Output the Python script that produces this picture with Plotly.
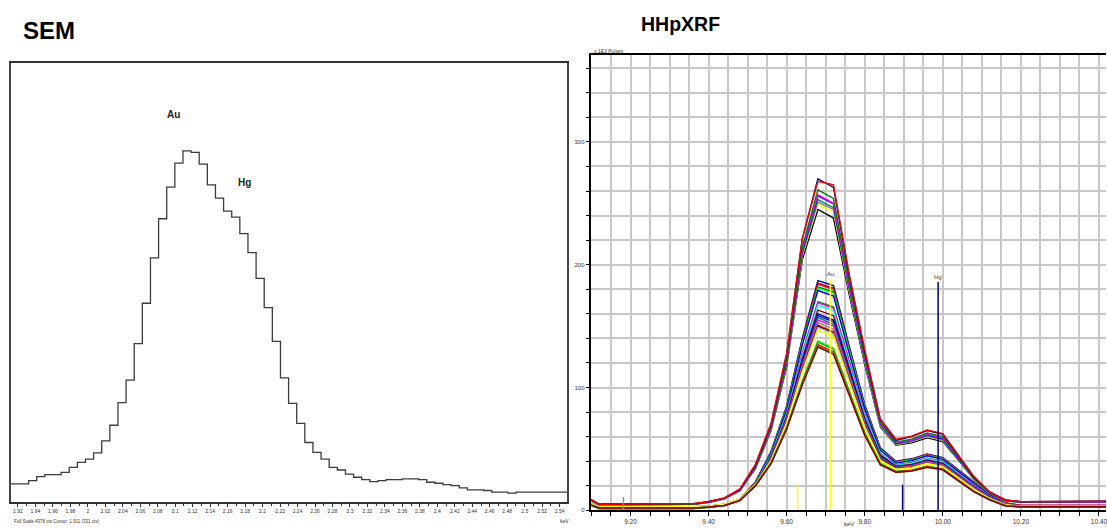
import plotly.graph_objects as go

W, H = 1107, 529

# ---------------- SEM spectrum (step histogram) ----------------
SEM_KEV = [1.9089, 1.9182, 1.9275, 1.9368, 1.9461, 1.9554, 1.9647, 1.9740, 1.9833, 1.9926,
           2.0019, 2.0112, 2.0205, 2.0298, 2.0391, 2.0484, 2.0577, 2.0670, 2.0763, 2.0856,
           2.0949, 2.1042, 2.1135, 2.1228, 2.1321, 2.1414, 2.1507, 2.1600, 2.1693, 2.1786,
           2.1879, 2.1972, 2.2065, 2.2158, 2.2251, 2.2344, 2.2437, 2.2530, 2.2623, 2.2716,
           2.2809, 2.2902, 2.2995, 2.3088, 2.3181, 2.3274, 2.3367, 2.3460, 2.3553, 2.3646,
           2.3739, 2.3832, 2.3925, 2.4018, 2.4111, 2.4204, 2.4297, 2.4390, 2.4483, 2.4576,
           2.4669, 2.4762, 2.4855, 2.4948, 2.5041, 2.5134, 2.5227, 2.5320, 2.5413, 2.5506,
           2.5599]
SEM_COUNTS = [181, 181, 181, 215, 255, 274, 274, 297, 347, 396,
              429, 490, 611, 766, 991, 1215, 1578, 1981, 2434, 2823,
              3137, 3378, 3500, 3484, 3368, 3160, 3028, 2899, 2840, 2674,
              2486, 2229, 1938, 1602, 1238, 984, 785, 594, 495, 429,
              347, 320, 280, 248, 225, 205, 215, 225, 225, 231,
              231, 225, 198, 188, 175, 165, 142, 122, 122, 116,
              99, 99, 89, 99, 99, 99, 99, 99, 99, 99,
              99]
SEM_FULL_SCALE = 4378
SEM_TICK_LABELS = ["1.92", "1.94", "1.96", "1.98", "2", "2.02", "2.04", "2.06", "2.08", "2.1",
                   "2.12", "2.14", "2.16", "2.18", "2.2", "2.22", "2.24", "2.26", "2.28", "2.3",
                   "2.32", "2.34", "2.36", "2.38", "2.4", "2.42", "2.44", "2.46", "2.48", "2.5",
                   "2.52", "2.54"]
SEM_PEAK_LABELS = ["Au", "Hg"]
SEM_LABEL_KEV = [2.0985, 2.1797]
SEM_LABEL_CTS = [3863, 3180]

# ---------------- HHpXRF spectra ----------------
XRF_KEV = [9.08, 9.12, 9.36, 9.40, 9.44, 9.48, 9.52, 9.56, 9.60, 9.64, 9.68, 9.72, 9.76,
           9.80, 9.84, 9.88, 9.92, 9.96, 10.00, 10.04, 10.08, 10.12, 10.16, 10.20, 10.44]

upper_navy = [12, 5, 5.5, 7, 10, 17, 37, 70, 127, 221, 270, 263, 191, 129, 74, 57, 60, 65, 62, 45, 27, 15, 8.5, 7, 7.5]
upper_red = [12.5, 5, 5.5, 7, 10, 17.5, 37.5, 71, 128, 221, 268, 265, 193, 131, 74.5, 58, 60.5, 65.5, 62.5, 45.5, 27.5, 15, 8.5, 7, 7.5]
upper_green = [11.5, 5, 5, 7, 10, 17, 36, 68, 123, 214, 261, 254, 186, 126, 72, 55.5, 58, 63, 60, 43.5, 26, 14.5, 8.5, 7, 7.5]
upper_magenta = [11.5, 4.5, 5, 6.5, 9.5, 16.5, 35.5, 67, 122, 212, 257, 250, 183, 124, 71, 55, 57, 62, 59, 43, 26, 14.5, 8, 7, 7]
upper_blue = [11.5, 5, 5, 7, 10, 16.5, 35, 67, 121, 211, 256, 249.5, 182.5, 123.5, 70.5, 54.5, 57, 61.5, 58.5, 42.5, 26, 14.5, 8, 7, 7]
upper_teal = [11, 4.5, 5, 6.5, 9.5, 16, 35, 66.5, 120, 209, 253, 246.5, 181, 122, 70, 54, 56.5, 61, 58, 42, 25.5, 14, 8, 6.5, 7]
upper_gray = [11, 4.5, 5, 6.5, 9.5, 16, 35, 66, 119.5, 208, 251, 245, 180, 122, 69.5, 54, 56, 60.5, 57.5, 42, 25.5, 14, 8, 6.5, 7]
upper_yellow = [11, 4.5, 5, 6.5, 9.5, 16, 34.5, 66, 119, 207, 249, 243, 179, 121, 69, 53.5, 56, 60, 57, 41.5, 25, 14, 8, 6.5, 7]
upper_black = [11, 4.5, 5, 6.5, 9.5, 16, 34, 65, 117, 204, 245, 238, 176, 119, 68, 53, 55, 59, 56, 41, 25, 14, 8, 6.5, 7]

lower_01 = [7, 2.5, 2.5, 3, 4.5, 8.5, 23, 48, 85, 140, 187, 183, 134, 86, 51, 40, 42, 46, 43, 33, 23, 13, 6, 4, 4]
lower_02 = [7, 2.5, 2.5, 3, 4.5, 8.5, 23, 47.5, 84, 138.5, 185, 181, 132, 85, 50, 39.5, 41.5, 45.5, 42.5, 32.5, 22.5, 13, 6, 4, 4]
lower_03 = [7.5, 2.5, 2.5, 3, 4.5, 8.5, 23, 47.5, 84, 137.5, 184, 180, 131.5, 84.5, 50, 39.5, 41.5, 45.5, 42.5, 32.5, 22.5, 12.5, 6, 4, 4]
lower_04 = [6.5, 1.5, 1.5, 2.5, 4, 8.5, 22.5, 47, 83.5, 136.5, 182, 178, 130.5, 84, 49.5, 39, 41, 45, 42, 32, 22, 12.5, 5.5, 3, 3]
lower_05 = [6.5, 1.5, 1.5, 2.5, 4, 8.5, 22.5, 47, 83, 136, 181, 177, 129.5, 83.5, 49.5, 39, 41, 45, 42, 32, 22, 12.5, 5.5, 3, 3]
lower_06 = [7, 2.5, 2.5, 3, 4.5, 8.5, 22.5, 46.5, 82, 134.5, 179, 174.5, 128, 82.5, 49, 38.5, 40.5, 44.5, 41.5, 31.5, 22, 12.5, 5.5, 3.5, 3.5]
lower_07 = [6.5, 1.5, 1.5, 2.5, 4, 8.5, 22, 45, 79, 128, 170, 165.5, 121.5, 78.5, 46.5, 37, 39, 42.5, 40, 30, 20.5, 11.5, 5, 3, 3]
lower_08 = [7, 2.5, 2.5, 3, 4.5, 8.5, 22, 44.5, 78.5, 127.5, 169, 164.5, 121, 78, 46.5, 37, 38.5, 42.5, 39.5, 30, 20.5, 11.5, 5.5, 3.5, 3.5]
lower_09 = [7, 2.5, 2.5, 3, 4.5, 8.5, 22, 44.5, 78, 126, 167, 162.5, 119, 77, 46, 36.5, 38.5, 42, 39.5, 29.5, 20, 11.5, 5, 3.5, 3.5]
lower_10 = [7.5, 3, 3, 3.5, 5, 9, 21.5, 43.5, 76.5, 123.5, 163, 158.5, 116.5, 75, 45, 36, 37.5, 41, 38.5, 29, 19.5, 11, 5, 3.5, 3.5]
lower_11 = [7, 2.5, 2.5, 3, 4.5, 8.5, 21.5, 43, 75.5, 121, 160, 155, 114, 73.5, 44, 35.5, 37, 40.5, 38, 28.5, 19, 11, 5, 3.5, 3.5]
lower_12 = [7, 2.5, 2.5, 3, 4.5, 8.5, 21.5, 42.5, 75, 120, 158.5, 153.5, 113, 73, 43.5, 35, 36.5, 40, 37.5, 28, 19, 10.5, 5, 3.5, 3.5]
lower_13 = [7, 2.5, 2.5, 3, 4.5, 8.5, 21.5, 42.5, 74.5, 118.5, 157, 151.5, 111.5, 72, 43, 35, 36.5, 40, 37.5, 28, 18.5, 10.5, 5, 3.5, 3.5]
lower_14 = [7, 2.5, 2.5, 3, 4.5, 8.5, 21, 42, 74, 117.5, 155, 150, 110.5, 71.5, 42.5, 34.5, 36, 39.5, 37, 27.5, 18.5, 10.5, 5, 3.5, 3.5]
lower_15 = [7.5, 3, 3, 3.5, 5, 9, 21, 41.5, 73, 116, 153, 147.5, 109, 70.5, 42, 34.5, 35.5, 39, 36.5, 27.5, 18, 10, 5, 3.5, 3.5]
lower_16 = [7, 2.5, 2.5, 3, 4.5, 8.5, 21, 41.5, 72.5, 114.5, 151, 145.5, 107, 69.5, 41.5, 34, 35.5, 38.5, 36.5, 27, 17.5, 10, 5, 3.5, 3.5]
lower_17 = [7, 2.5, 2.5, 3, 4.5, 8.5, 21, 41, 72, 114, 150, 144.5, 106.5, 69, 41.5, 34, 35, 38.5, 36, 27, 17.5, 10, 5, 3.5, 3.5]
lower_18 = [7.5, 3, 3, 3.5, 5, 9, 21, 41, 71.5, 113.5, 149, 144, 106, 68.5, 41, 33.5, 35, 38.5, 36, 26.5, 17.5, 10, 5, 3.5, 3.5]
lower_19 = [7, 3, 3, 3.5, 5, 9, 21, 40.5, 71, 112, 147, 141.5, 104.5, 67.5, 40.5, 33.5, 34.5, 38, 35.5, 26.5, 17, 9.5, 4.5, 3.5, 3.5]
lower_20 = [6, 1.5, 1.5, 2.5, 4, 8, 20.5, 39, 67.5, 105.5, 138, 132, 97.5, 63.5, 38.5, 32, 33, 36, 34, 25, 15.5, 9, 4, 2.5, 2.5]
lower_21 = [6, 1.5, 1.5, 2.5, 4, 8, 20, 38.5, 67.5, 104.5, 137, 131, 97, 63, 38, 31.5, 32.5, 36, 33.5, 24.5, 15.5, 9, 4, 2.5, 2.5]
lower_22 = [6.5, 2, 2, 2.5, 4, 8, 20, 38.5, 67, 103.5, 135, 129, 95.5, 62, 37.5, 31.5, 32.5, 35.5, 33.5, 24.5, 15.5, 8.5, 4, 3, 3]
lower_23 = [6.5, 2, 2, 2.5, 4, 8, 20, 38, 66.5, 103, 134, 128, 95, 61.5, 37.5, 31, 32, 35, 33, 24, 15, 8.5, 4, 3, 3]
lower_24 = [6.5, 2, 2, 2.5, 4, 8, 20, 38, 66, 102, 133, 127, 94, 61, 37, 31, 32, 35, 33, 24, 15, 8.5, 3.5, 3, 3]

XRF_SERIES = [
    (lower_01, "#000080"), (lower_02, "#800080"), (lower_03, "#ff0000"), (lower_04, "#008000"),
    (lower_05, "#00ff00"), (lower_06, "#0000ff"), (lower_07, "#008000"), (lower_08, "#ff00ff"),
    (lower_09, "#00ffff"), (lower_10, "#800000"), (lower_11, "#000080"), (lower_12, "#0000ff"),
    (lower_13, "#008080"), (lower_14, "#ff00ff"), (lower_15, "#808080"), (lower_16, "#ff0000"),
    (lower_17, "#000000"), (lower_18, "#a9a9a9"), (lower_19, "#ffff00"), (lower_20, "#00ff00"),
    (lower_21, "#00c000"), (lower_22, "#ff0000"), (lower_23, "#808000"), (lower_24, "#800000"),
    (upper_black, "#000000"), (upper_yellow, "#ffff00"), (upper_gray, "#808080"),
    (upper_teal, "#008080"), (upper_blue, "#0000ff"), (upper_magenta, "#ff00ff"),
    (upper_green, "#008000"), (upper_navy, "#000080"), (upper_red, "#ff0000"),
]

# element marker lines
MARK_KEV = [9.182, 9.628, 9.712, 9.897, 9.988]
MARK_TOP = [11, 21, 188, 21, 186]
MARK_LABEL = ["", "", "Au", "", "Hg"]
MARK_COLOR = ["#909090", "#ffff00", "#ffff00", "#000080", "#000080"]

FONT = "Liberation Sans, Arial, sans-serif"

fig = go.Figure()

fig.add_trace(go.Scatter(
    x=SEM_KEV, y=SEM_COUNTS, mode="lines", xaxis="x", yaxis="y",
    line=dict(shape="hvh", color="#3c3c3c", width=1.3),
    showlegend=False, hoverinfo="skip"))

for vals, col in XRF_SERIES:
    fig.add_trace(go.Scatter(
        x=XRF_KEV, y=vals, mode="lines", xaxis="x2", yaxis="y2",
        line=dict(color=col, width=1.4), showlegend=False, hoverinfo="skip"))

for kev, top, col in zip(MARK_KEV, MARK_TOP, MARK_COLOR):
    fig.add_trace(go.Scatter(
        x=[kev, kev], y=[0, top], mode="lines", xaxis="x2", yaxis="y2",
        line=dict(color=col, width=1.5), showlegend=False, hoverinfo="skip"))

annotations = [
    dict(text="<b>SEM</b>", x=21 / W, y=1 - 31 / H, xref="paper", yref="paper",
         xanchor="left", yanchor="middle", showarrow=False,
         font=dict(family=FONT, size=24, color="#000")),
    dict(text="<b>HHpXRF</b>", x=640 / W, y=1 - 24 / H, xref="paper", yref="paper",
         xanchor="left", yanchor="middle", showarrow=False,
         font=dict(family=FONT, size=19.5, color="#000")),
    dict(text="x 1E3 Pulses", x=593 / W, y=1 - 51 / H, xref="paper", yref="paper",
         xanchor="left", yanchor="middle", showarrow=False,
         font=dict(family=FONT, size=5, color="#333")),
    dict(text="keV", x=850 / W, y=1 - 527 / H, xref="paper", yref="paper",
         xanchor="center", yanchor="middle", showarrow=False,
         font=dict(family=FONT, size=6, color="#333")),
    dict(text="keV", x=565 / W, y=1 - 524 / H, xref="paper", yref="paper",
         xanchor="center", yanchor="middle", showarrow=False,
         font=dict(family=FONT, size=5, color="#333")),
    dict(text="Full Scale 4378 cts Cursor: 1.911 (331 cts)", x=12 / W, y=1 - 524 / H,
         xref="paper", yref="paper", xanchor="left", yanchor="middle", showarrow=False,
         font=dict(family=FONT, size=4.5, color="#333")),
]
for lab, kx, ky in zip(SEM_PEAK_LABELS, SEM_LABEL_KEV, SEM_LABEL_CTS):
    annotations.append(dict(text="<b>" + lab + "</b>", x=kx, y=ky, xref="x", yref="y",
                            showarrow=False, xanchor="center", yanchor="middle",
                            font=dict(family=FONT, size=10, color="#222")))
for lab, kev, top in zip(MARK_LABEL, MARK_KEV, MARK_TOP):
    if lab:
        annotations.append(dict(text=lab, x=kev, y=top, xref="x2", yref="y2",
                                showarrow=False, xanchor="center", yanchor="bottom",
                                yshift=0, font=dict(family=FONT, size=6, color="#444")))

GRID = "#c8c8c8"
fig.update_layout(
    width=W, height=H, margin=dict(l=0, r=0, t=0, b=0),
    paper_bgcolor="white", plot_bgcolor="white", showlegend=False,
    annotations=annotations,
    xaxis=dict(domain=[11 / W, 568 / W], range=[1.912, 2.549], anchor="y",
               tickvals=[float(s) for s in SEM_TICK_LABELS], ticktext=SEM_TICK_LABELS,
               ticks="outside", ticklen=3, tickwidth=1, tickcolor="#333",
               showline=True, linecolor="#333", linewidth=1.5, mirror=True,
               showgrid=False, zeroline=False,
               tickfont=dict(family=FONT, size=5, color="#333"),
               minor=dict(ticks="outside", ticklen=2, tick0=1.92, dtick=0.01,
                          tickcolor="#333", showgrid=False)),
    yaxis=dict(domain=[1 - 505 / H, 1 - 63 / H], range=[0, SEM_FULL_SCALE], anchor="x",
               showticklabels=False, ticks="", showline=True, linecolor="#444",
               linewidth=1.5, mirror=True, showgrid=False, zeroline=False),
    xaxis2=dict(domain=[592 / W, 1.0], range=[9.10, 10.418], anchor="y2",
                tick0=9.2, dtick=0.2, tickformat=".2f", ticklabeloverflow="allow",
                ticks="outside", ticklen=4, tickcolor="#000", tickwidth=1,
                showline=True, linecolor="#000", linewidth=1.5, mirror=True,
                showgrid=True, gridcolor=GRID, gridwidth=1.5, zeroline=False,
                tickfont=dict(family=FONT, size=6.5, color="#333"),
                minor=dict(tick0=9.1, dtick=0.05, ticks="outside", ticklen=4,
                           tickcolor="#000", showgrid=True, gridcolor=GRID, gridwidth=1.5)),
    yaxis2=dict(domain=[1 - 513.3 / H, 1 - 55 / H], range=[0, 371], anchor="x2",
                tick0=0, dtick=100, ticks="outside", ticklen=4, tickcolor="#000",
                showline=True, linecolor="#000", linewidth=1.5,
                showgrid=True, gridcolor=GRID, gridwidth=1.5, zeroline=False,
                tickfont=dict(family=FONT, size=6, color="#333"),
                minor=dict(tick0=0, dtick=20, ticks="outside", ticklen=4,
                           tickcolor="#000", showgrid=True, gridcolor=GRID, gridwidth=1.5)),
)

fig.write_html("out.html")
